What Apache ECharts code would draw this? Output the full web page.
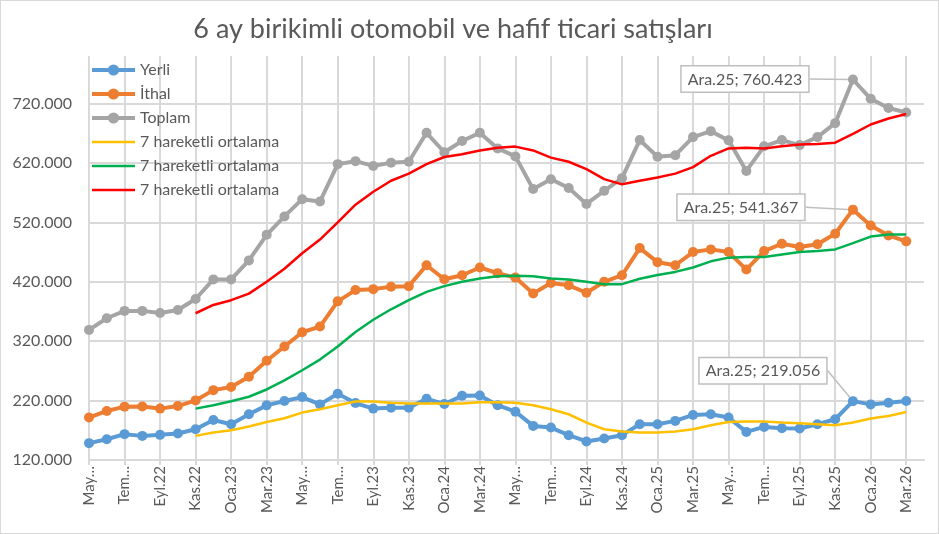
<!DOCTYPE html>
<html>
<head>
<meta charset="utf-8">
<script src="https://cdn.jsdelivr.net/npm/echarts@6/dist/echarts.min.js"></script>
<style>
  html, body { margin: 0; padding: 0; background: #fff; }
  #chart { width: 939px; height: 534px; box-sizing: border-box; border: 1.5px solid #d9d9d9; }
</style>
</head>
<body>
<div id="chart"></div>
<script>
// aylar (son kategori bos kaliyor, eksen bir ay daha uzuyor)
var months = ['May.22','Haz.22','Tem.22','Ağu.22','Eyl.22','Eki.22','Kas.22','Ara.22',
  'Oca.23','Şub.23','Mar.23','Nis.23','May.23','Haz.23','Tem.23','Ağu.23','Eyl.23','Eki.23','Kas.23','Ara.23',
  'Oca.24','Şub.24','Mar.24','Nis.24','May.24','Haz.24','Tem.24','Ağu.24','Eyl.24','Eki.24','Kas.24','Ara.24',
  'Oca.25','Şub.25','Mar.25','Nis.25','May.25','Haz.25','Tem.25','Ağu.25','Eyl.25','Eki.25','Kas.25','Ara.25',
  'Oca.26','Şub.26','Mar.26','Nis.26'];

var yerli = [148400,155000,163500,160600,162300,164600,171800,187400,180200,197000,212000,219200,225900,213600,231500,215800,
  206500,208000,208000,223000,214300,228000,228700,212300,201400,177400,174600,161800,151200,156200,161800,180200,
  180200,185800,195800,197000,191400,167300,175700,173500,173000,180200,188600,219056,213600,216500,219200];

var ithal = [191400,202500,209800,210000,206500,210800,220300,237600,243000,260000,287000,311000,335000,344600,387000,406000,
  407600,411500,412600,447800,424300,431000,444000,434500,427000,400400,418000,414000,401500,420000,431000,476700,
  453000,447800,470000,474500,470000,440500,471700,484000,478400,483000,500800,541367,514600,498000,488000];

var toplam = [339000,358600,371000,371000,367500,372500,391000,424000,424000,456000,499000,530000,559000,555000,618000,623000,
  615000,620500,622000,670700,638000,657000,670700,644500,631000,576000,592700,577700,551000,573000,594400,658500,
  630500,633000,663500,673500,658000,606600,648000,658500,650000,663500,687000,760423,728000,712500,705000];

// 7 aylik hareketli ortalamalar (Kas.22'den itibaren)
var maYerli = [null,null,null,null,null,null,
  160600,166200,170200,176400,184000,190200,199800,205300,212000,218500,218500,216500,215000,215000,215000,215000,
  217000,217000,216500,212000,205300,197000,183000,171800,168000,166200,166200,168000,171800,178500,184000,184700,
  184700,183000,181900,180200,178500,183000,189700,194000,200800];

var maIthal = [null,null,null,null,null,null,
  206500,212000,219000,226500,238700,254000,271000,289000,311000,335500,356000,373700,389000,403000,412600,420000,
  425500,429400,430000,429400,425500,423800,420000,416000,416000,425000,431500,436600,444000,454400,460600,461600,
  461600,466000,470000,471700,474500,485000,496000,499600,499600];

var maToplam = [null,null,null,null,null,null,
  367000,381000,389000,400000,420000,442000,468000,491000,520000,549800,571500,590000,602000,618000,630000,634500,
  641000,645600,647500,641000,629000,622000,609500,592700,584000,590000,595500,602000,613000,632000,644500,645600,
  644500,648000,651000,652000,654000,669000,684700,694800,702500];

var yTicks = { min: 120000, max: 800000, step: 100000 };

var FONT = 'Lato';
var TXT = '#595959';
var GRID = '#d9d9d9';
var PEAK = 43; // Ara.25

function fmtNum(v) {
  return (v / 1000).toFixed(3);
}
function fmtThousands(v) {
  return String(Math.round(v)).replace(/\B(?=(\d{3})+(?!\d))/g, '.');
}

// Ara.25 etiketi, kutu ve kilavuz cizgisiyle
function callout(arr, idx) {
  return arr.map(function (v, i) {
    if (i !== idx) return v;
    return {
      value: v,
      label: {
        show: true,
        position: 'top',
        formatter: months[i] + '; ' + fmtThousands(v),
        fontFamily: FONT, fontSize: 16, color: TXT,
        backgroundColor: '#fff',
        borderColor: '#bfbfbf', borderWidth: 1.5,
        padding: [5, 6, 4, 6]
      },
      labelLine: { show: true, lineStyle: { color: '#bfbfbf', width: 1.5 } }
    };
  });
}

function mainLine(name, data, color, shift) {
  return {
    name: name, type: 'line', data: data,
    symbol: 'circle', symbolSize: 10,
    lineStyle: { color: color, width: 4 },
    itemStyle: { color: color },
    labelLayout: function (p) {
      return p.dataIndex === PEAK ? { dx: shift[0], dy: shift[1] } : {};
    },
    z: 3
  };
}
function maLine(name, data, color) {
  return {
    name: name, type: 'line', data: data,
    symbol: 'none',
    lineStyle: { color: color, width: 2.5 },
    itemStyle: { color: color },
    z: 4
  };
}

var splitColors = [];
for (var t = yTicks.min; t < yTicks.max; t += yTicks.step) splitColors.push(GRID);
splitColors.push('rgba(0,0,0,0)');

var maIcon = 'path://M0,0L43,0L43,2.5L0,2.5Z';

var chart = echarts.init(document.getElementById('chart'), null, { renderer: 'canvas' });
chart.setOption({
  animation: false,
  title: {
    text: '6 ay birikimli otomobil ve hafif ticari satışları',
    left: 447, top: 10, textAlign: 'center',
    textStyle: { fontFamily: FONT, fontSize: 27, fontWeight: 'normal', color: TXT }
  },
  legend: {
    orient: 'vertical', left: 84, top: 55,
    itemWidth: 43, itemHeight: 14, itemGap: 6,
    textStyle: { fontFamily: FONT, fontSize: 16, color: TXT, lineHeight: 18 },
    formatter: function (n) { return n.indexOf('7 hareketli') === 0 ? '7 hareketli ortalama' : n; },
    data: [
      { name: 'Yerli', lineStyle: { width: 4 } },
      { name: 'İthal', lineStyle: { width: 4 } },
      { name: 'Toplam', lineStyle: { width: 4 } },
      { name: '7 hareketli ortalama (Yerli)', icon: maIcon },
      { name: '7 hareketli ortalama (İthal)', icon: maIcon },
      { name: '7 hareketli ortalama (Toplam)', icon: maIcon }
    ]
  },
  grid: { left: 88, right: 14, top: 55, bottom: 73, containLabel: false },
  xAxis: {
    type: 'category',
    data: months,
    boundaryGap: false,
    axisLine: { lineStyle: { color: GRID, width: 2 } },
    axisTick: { show: true, interval: 1, length: 5, lineStyle: { color: GRID, width: 2 } },
    splitLine: { show: true, interval: 1, lineStyle: { color: GRID, width: 2 } },
    axisLabel: {
      interval: 1, rotate: 90, margin: 6,
      fontFamily: FONT, fontSize: 15, color: TXT,
      formatter: function (v) {
        if (v.indexOf('May') === 0 || v.indexOf('Tem') === 0) return v.slice(0, 3) + '…';
        return v;
      }
    }
  },
  yAxis: {
    type: 'value',
    min: yTicks.min, max: yTicks.max, interval: yTicks.step,
    axisLine: { show: false },
    axisTick: { show: false },
    splitLine: { lineStyle: { color: splitColors, width: 2 } },
    axisLabel: {
      showMaxLabel: false, margin: 17,
      fontFamily: FONT, fontSize: 16, color: TXT,
      formatter: fmtNum
    }
  },
  series: [
    mainLine('Yerli', callout(yerli, PEAK), '#5b9bd5', [-90, -8]),
    mainLine('İthal', callout(ithal, PEAK), '#ed7d31', [-112, 20]),
    mainLine('Toplam', callout(toplam, PEAK), '#a5a5a5', [-108, 22]),
    maLine('7 hareketli ortalama (Yerli)', maYerli, '#ffc000'),
    maLine('7 hareketli ortalama (İthal)', maIthal, '#00b050'),
    maLine('7 hareketli ortalama (Toplam)', maToplam, '#ff0000')
  ]
});
</script>
</body>
</html>
